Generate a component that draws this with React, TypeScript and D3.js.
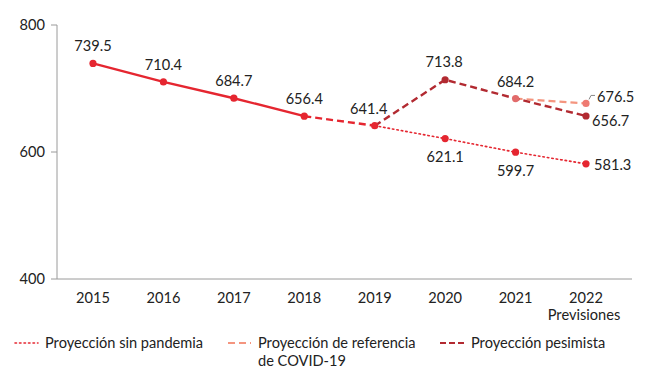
import React from "react";
import * as d3 from "d3";

const years = ["2015", "2016", "2017", "2018", "2019", "2020", "2021", "2022"];
const actualValues = [739.5, 710.4, 684.7, 656.4];
const bridgeValues = [656.4, 641.4]; // 2018-2019
const sinPandemia = [641.4, 621.1, 599.7, 581.3]; // 2019-2022
const pesimista = [641.4, 713.8, 684.2, 656.7]; // 2019-2022
const referencia = [684.2, 676.5]; // 2021-2022
const yTicks = [400, 600, 800];

const RED = "#e52630";
const SALMON = "#f4957f";
const DARK = "#b22a31";
const FONT = "Lato, 'Open Sans', sans-serif";
const FS = 14.6;

export default function App() {
  const W = 647, H = 380;
  const x = d3.scalePoint<string>().domain(years).range([93, 586]);
  const y = d3.scaleLinear().domain([400, 800]).range([279, 25]);
  const line = d3.line<[string, number]>().x(d => x(d[0])!).y(d => y(d[1]));
  const zip = (ys: string[], vs: number[]) => vs.map((v, i) => [ys[i], v] as [string, number]);

  const actual = zip(years.slice(0, 4), actualValues);
  const bridge = zip(years.slice(3, 5), bridgeValues);
  const sin = zip(years.slice(4), sinPandemia);
  const pes = zip(years.slice(4), pesimista);
  const ref = zip(years.slice(6), referencia);

  const labels: { yr: string; v: number; dx: number; dy: number; anchor: string }[] = [
    { yr: "2015", v: 739.5, dx: 0, dy: -12, anchor: "middle" },
    { yr: "2016", v: 710.4, dx: 0, dy: -12, anchor: "middle" },
    { yr: "2017", v: 684.7, dx: 0, dy: -12, anchor: "middle" },
    { yr: "2018", v: 656.4, dx: 0, dy: -12, anchor: "middle" },
    { yr: "2019", v: 641.4, dx: -6, dy: -12, anchor: "middle" },
    { yr: "2020", v: 713.8, dx: -1, dy: -13, anchor: "middle" },
    { yr: "2021", v: 684.2, dx: 0, dy: -12, anchor: "middle" },
    { yr: "2020", v: 621.1, dx: 0, dy: 23, anchor: "middle" },
    { yr: "2021", v: 599.7, dx: 0, dy: 24, anchor: "middle" },
    { yr: "2022", v: 581.3, dx: 8, dy: 6, anchor: "start" },
    { yr: "2022", v: 656.7, dx: 6, dy: 10, anchor: "start" },
    { yr: "2022", v: 676.5, dx: 11, dy: -1, anchor: "start" },
  ];

  const fmt = (v: number) => v.toFixed(1);

  return (
    <svg width={W} height={H} style={{ position: "absolute", left: 0, top: 0, background: "#fff" }} fontFamily={FONT}>
      {/* axes */}
      <line x1={57} x2={57} y1={y(800)} y2={y(400)} stroke="#9a9a9a" strokeWidth={1} />
      <line x1={57} x2={632} y1={y(400)} y2={y(400)} stroke="#9a9a9a" strokeWidth={1} />
      {yTicks.map(t => (
        <g key={t}>
          <line x1={51} x2={57} y1={y(t)} y2={y(t)} stroke="#9a9a9a" />
          <text x={45} y={y(t) + 5} textAnchor="end" fontSize={FS} fill="#222">{t}</text>
        </g>
      ))}
      {years.map(yr => (
        <text key={yr} x={x(yr)} y={303} textAnchor="middle" fontSize={FS} fill="#222">{yr}</text>
      ))}
      <text x={x("2022")! - 2} y={320} textAnchor="middle" fontSize={FS} fill="#222">Previsiones</text>

      {/* lines */}
      <path d={line(sin)!} fill="none" stroke={RED} strokeWidth={1.6} strokeDasharray="1.5 3" strokeLinecap="round" />
      <path d={line(ref)!} fill="none" stroke={SALMON} strokeWidth={2.2} strokeDasharray="7 4" />
      <path d={line(pes)!} fill="none" stroke={DARK} strokeWidth={2.4} strokeDasharray="7 4" />
      <path d={line(bridge)!} fill="none" stroke={RED} strokeWidth={2.4} strokeDasharray="7 4" />
      <path d={line(actual)!} fill="none" stroke={RED} strokeWidth={2.4} />

      {/* points */}
      {actual.map(([yr, v]) => <circle key={"a" + yr} cx={x(yr)} cy={y(v)} r={3.6} fill={RED} />)}
      <circle cx={x("2019")} cy={y(641.4)} r={3.6} fill={RED} />
      {sin.slice(1).map(([yr, v]) => <circle key={"s" + yr} cx={x(yr)} cy={y(v)} r={3.6} fill={RED} />)}
      <circle cx={x("2020")} cy={y(713.8)} r={3.6} fill={DARK} />
      <circle cx={x("2021")} cy={y(684.2)} r={3.6} fill="#e26b6b" />
      <circle cx={x("2022")} cy={y(656.7)} r={3.6} fill={DARK} />
      <circle cx={x("2022")} cy={y(676.5)} r={3.6} fill="#ee7a72" />
      {/* leader for 676.5 */}
      <path d={`M${x("2022")! + 3},${y(676.5) - 4} L${x("2022")! + 5},${y(676.5) - 8} L${x("2022")! + 9},${y(676.5) - 8}`} fill="none" stroke="#888" strokeWidth={1} />

      {labels.map((l, i) => (
        <text key={i} x={x(l.yr)! + l.dx} y={y(l.v) + l.dy} textAnchor={l.anchor as any} fontSize={FS} fill="#222">{fmt(l.v)}</text>
      ))}

      {/* legend */}
      <line x1={15} x2={38} y1={343} y2={343} stroke={RED} strokeWidth={1.6} strokeDasharray="1.5 3" strokeLinecap="round" />
      <text x={45} y={348} fontSize={FS} fill="#222">Proyección sin pandemia</text>
      <line x1={228} x2={251} y1={343} y2={343} stroke={SALMON} strokeWidth={2.2} strokeDasharray="7 4" />
      <text x={258} y={348} fontSize={FS} fill="#222">Proyección de referencia</text>
      <text x={258} y={366} fontSize={FS} fill="#222">de COVID-19</text>
      <line x1={440} x2={465} y1={343} y2={343} stroke={DARK} strokeWidth={2.2} strokeDasharray="6 3" />
      <text x={471} y={348} fontSize={FS} fill="#222">Proyección pesimista</text>
    </svg>
  );
}
